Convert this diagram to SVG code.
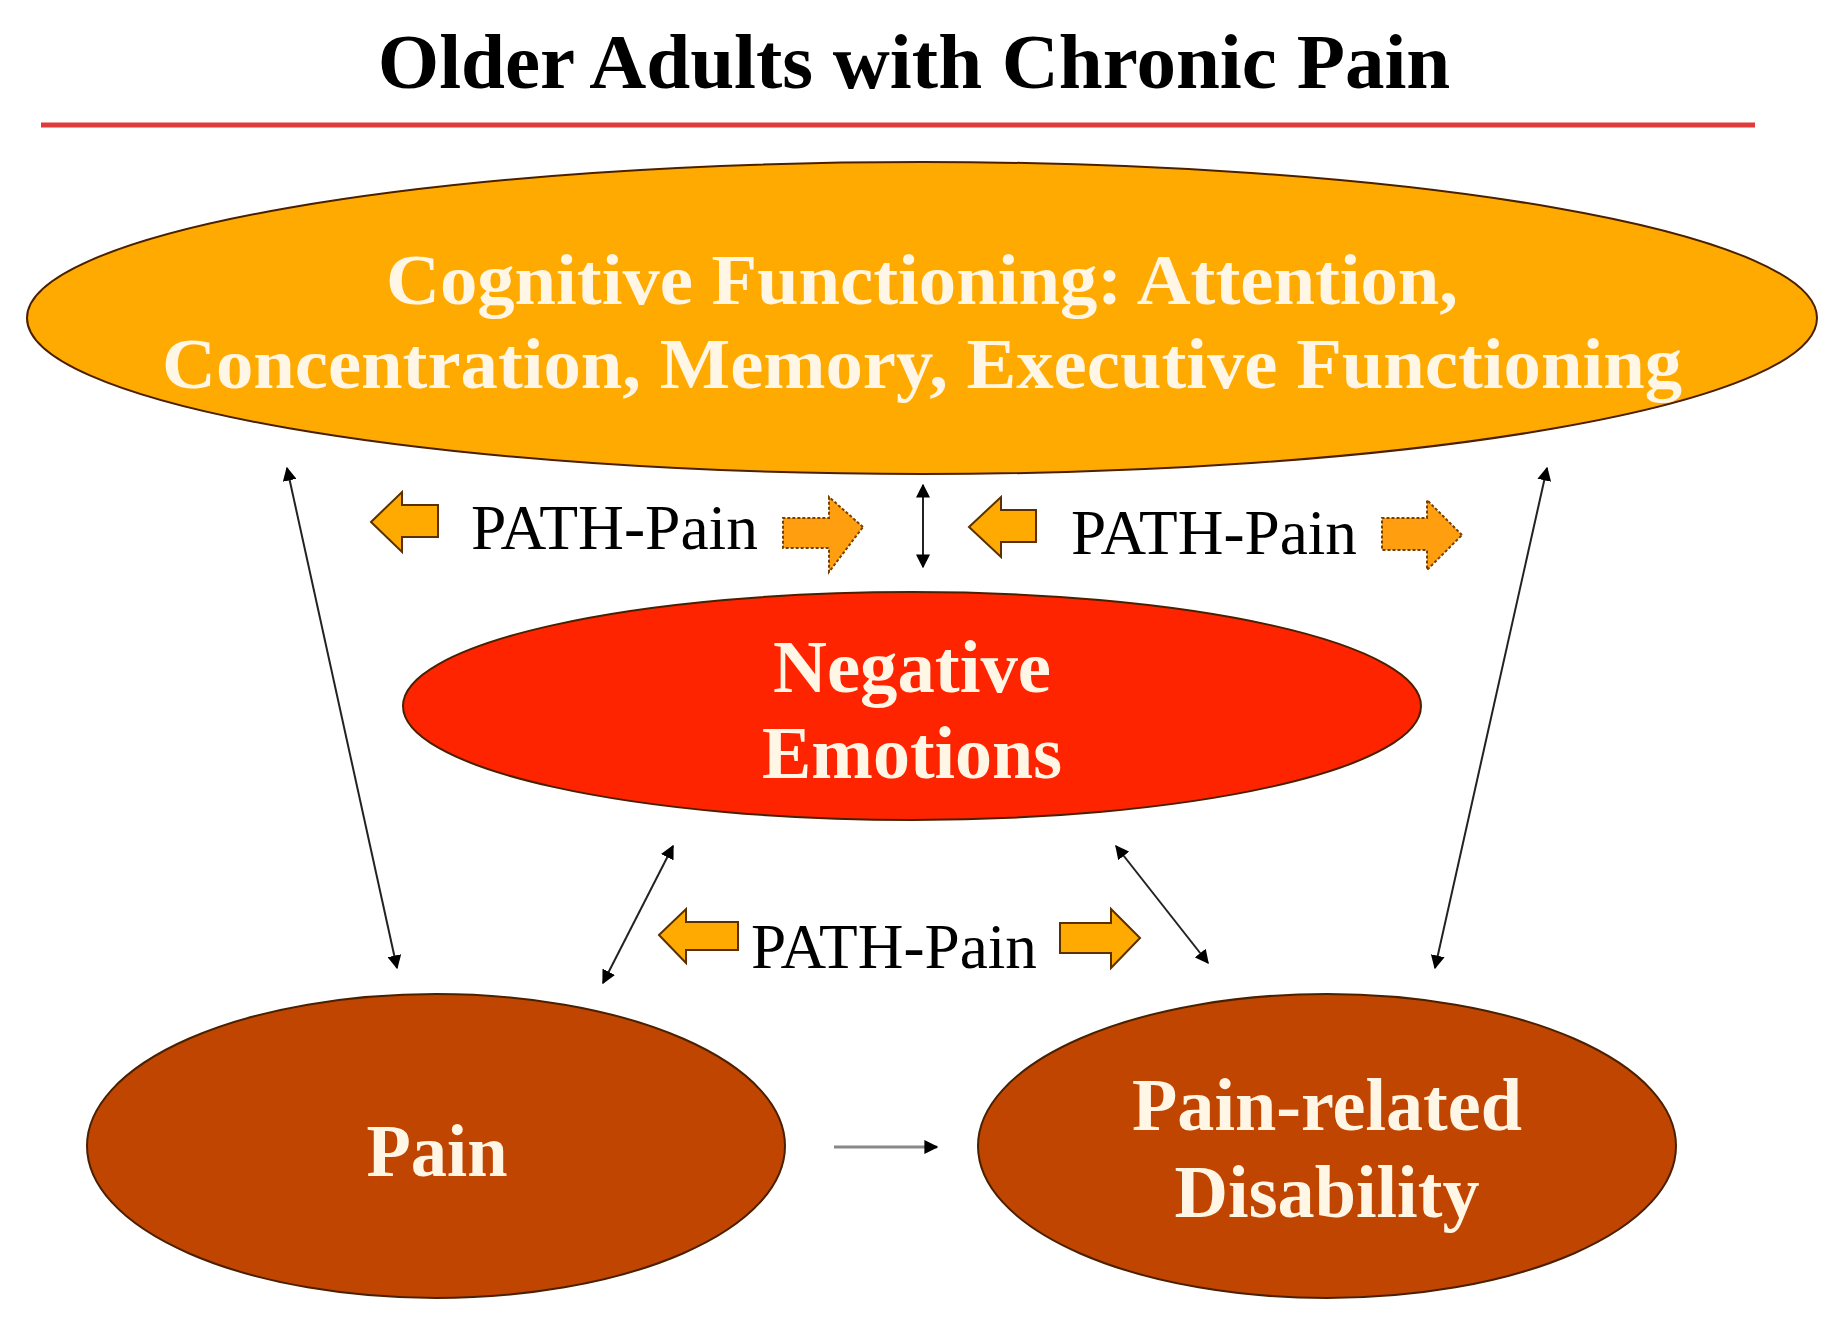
<svg xmlns="http://www.w3.org/2000/svg" width="1837" height="1318" viewBox="0 0 1837 1318">
<defs>
<style>
.title{font-family:"Liberation Serif","Times New Roman",serif;font-weight:bold;font-size:79px;fill:#000}
.lbl{font-family:"Liberation Serif","Times New Roman",serif;font-weight:bold;fill:#FFF6E6;text-anchor:middle}
.path{font-family:"Liberation Serif","Times New Roman",serif;font-size:64px;fill:#000}
.node{stroke:#4a2000;stroke-width:2}
.conn{stroke:#222;stroke-width:2;fill:none}
.barL{fill:#FFAA00;stroke:#5a3000;stroke-width:2;stroke-linejoin:miter}
.barR{fill:#FF9F10;stroke:#7a4000;stroke-width:2;stroke-dasharray:3 2;stroke-linejoin:miter}
</style>
<marker id="ah" viewBox="0 0 10 10" refX="9" refY="5" markerWidth="6" markerHeight="6" orient="auto-start-reverse" markerUnits="userSpaceOnUse">
<path d="M0,0 L10,5 L0,10 z" fill="#000"/>
</marker>
<marker id="ah2" viewBox="0 0 10 10" refX="9" refY="5" markerWidth="14" markerHeight="14" orient="auto-start-reverse" markerUnits="userSpaceOnUse">
<path d="M0,0 L10,5 L0,10 z" fill="#000"/>
</marker>
</defs>
<rect width="1837" height="1318" fill="#fff"/>
<g id="title">
<text class="title" x="914" y="88" text-anchor="middle">Older Adults with Chronic Pain</text>
<line x1="41" y1="125" x2="1755" y2="125" stroke="#E03A3A" stroke-width="5"/>
</g>
<g id="node-cognitive">
<ellipse class="node" cx="922" cy="318" rx="895" ry="156" fill="#FFAA00"/>
<text class="lbl" x="922" y="304" font-size="72" textLength="1072" lengthAdjust="spacingAndGlyphs">Cognitive Functioning: Attention,</text>
<text class="lbl" x="922" y="388" font-size="72" textLength="1520" lengthAdjust="spacingAndGlyphs">Concentration, Memory, Executive Functioning</text>
</g>
<g id="node-negative">
<ellipse class="node" cx="912" cy="706" rx="509" ry="114" fill="#FF2400"/>
<text class="lbl" x="912" y="692" font-size="74" textLength="278" lengthAdjust="spacingAndGlyphs">Negative</text>
<text class="lbl" x="912" y="778" font-size="74" textLength="300" lengthAdjust="spacingAndGlyphs">Emotions</text>
</g>
<g id="node-pain">
<ellipse class="node" cx="436" cy="1146" rx="349" ry="152" fill="#C04500"/>
<text class="lbl" x="437" y="1176" font-size="74" textLength="141" lengthAdjust="spacingAndGlyphs">Pain</text>
</g>
<g id="node-disability">
<ellipse class="node" cx="1327" cy="1146" rx="349" ry="152" fill="#C04500"/>
<text class="lbl" x="1327" y="1130" font-size="74" textLength="390" lengthAdjust="spacingAndGlyphs">Pain-related</text>
<text class="lbl" x="1327" y="1217" font-size="74" textLength="305" lengthAdjust="spacingAndGlyphs">Disability</text>
</g>
<g id="connectors">
<line class="conn" x1="287" y1="468" x2="397" y2="968" marker-start="url(#ah2)" marker-end="url(#ah2)"/>
<line class="conn" x1="1547" y1="468" x2="1435" y2="968" marker-start="url(#ah2)" marker-end="url(#ah2)"/>
<line class="conn" x1="923" y1="485" x2="923" y2="567" marker-start="url(#ah2)" marker-end="url(#ah2)"/>
<line class="conn" x1="673" y1="846" x2="603" y2="983" marker-start="url(#ah2)" marker-end="url(#ah2)"/>
<line class="conn" x1="1116" y1="846" x2="1208" y2="963" marker-start="url(#ah2)" marker-end="url(#ah2)"/>
<line x1="834" y1="1147" x2="937" y2="1147" stroke="#888" stroke-width="3" marker-end="url(#ah2)"/>
</g>
<g id="path-pain-1">
<polygon class="barL" points="371,522 402,492 402,505 438,505 438,537 402,537 402,552"/>
<text class="path" x="471" y="549" textLength="287" lengthAdjust="spacingAndGlyphs">PATH-Pain</text>
<polygon class="barR" points="863,527 829,497 829,518 783,518 783,548 829,548 829,572"/>
</g>
<g id="path-pain-2">
<polygon class="barL" points="969,527 1001,497 1001,510 1036,510 1036,542 1001,542 1001,557"/>
<text class="path" x="1071" y="554" textLength="286" lengthAdjust="spacingAndGlyphs">PATH-Pain</text>
<polygon class="barR" points="1462,535 1427,500 1427,518 1382,518 1382,550 1427,550 1427,570"/>
</g>
<g id="path-pain-3">
<polygon class="barL" points="659,935 686,909 686,922 738,922 738,950 686,950 686,963"/>
<text class="path" x="751" y="968" textLength="286" lengthAdjust="spacingAndGlyphs">PATH-Pain</text>
<polygon class="barL" points="1140,938 1111,909 1111,923 1060,923 1060,953 1111,953 1111,968"/>
</g>
</svg>
